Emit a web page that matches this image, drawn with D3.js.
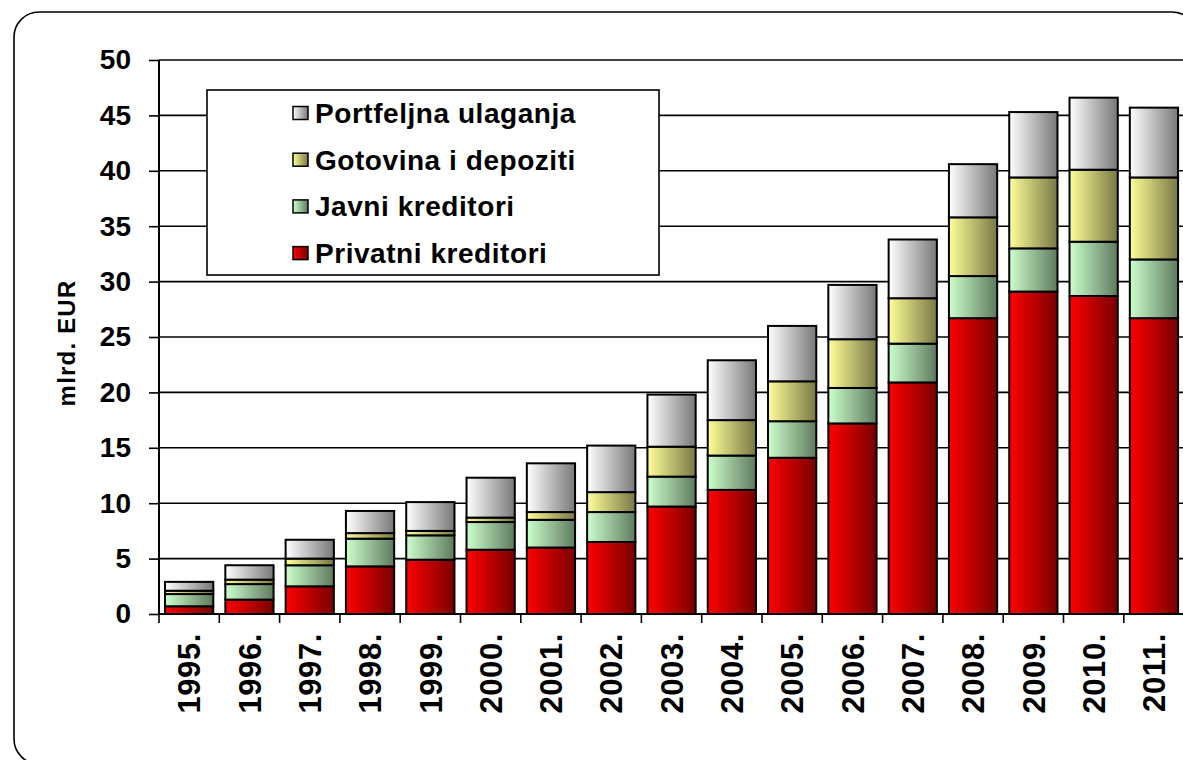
<!DOCTYPE html>
<html>
<head>
<meta charset="utf-8">
<script src="https://cdn.jsdelivr.net/npm/d3@7"></script>
<style>
  html, body { margin: 0; padding: 0; background: #fff; }
  svg { display: block; font-family: "Liberation Sans", Arial, sans-serif; }
</style>
</head>
<body>
<svg id="chart" width="1183" height="760"></svg>
<script>
const years = ["1995.","1996.","1997.","1998.","1999.","2000.","2001.","2002.","2003.","2004.","2005.","2006.","2007.","2008.","2009.","2010.","2011."];
const privatniKreditori = [0.7, 1.3, 2.5, 4.3, 4.9, 5.8, 6.0, 6.5, 9.7, 11.2, 14.1, 17.2, 20.9, 26.7, 29.1, 28.7, 26.7];
const javniKreditori    = [1.1, 1.4, 1.9, 2.5, 2.2, 2.5, 2.5, 2.7, 2.7, 3.1, 3.3, 3.2, 3.5, 3.8, 3.9, 4.9, 5.3];
const gotovinaDepoziti  = [0.3, 0.4, 0.6, 0.5, 0.4, 0.4, 0.7, 1.8, 2.7, 3.2, 3.6, 4.4, 4.1, 5.3, 6.4, 6.5, 7.4];
const portfeljna        = [0.8, 1.3, 1.7, 2.0, 2.6, 3.6, 4.4, 4.2, 4.7, 5.4, 5.0, 4.9, 5.3, 4.8, 5.9, 6.5, 6.3];
const seriesNames = ["Privatni kreditori", "Javni kreditori", "Gotovina i depoziti", "Portfeljna ulaganja"];
const yTicks = [0, 5, 10, 15, 20, 25, 30, 35, 40, 45, 50];
const yTitle = "mlrd. EUR";

(function () {
const svg = d3.select("#chart");
const defs = svg.append("defs");
const grads = [
  ["g0", "#ff0000", "#780000"],
  ["g1", "#ccffcc", "#5f7a5f"],
  ["g2", "#ffff99", "#787845"],
  ["g3", "#ffffff", "#787878"]
];
grads.forEach(([id, c0, c1]) => {
  const g = defs.append("linearGradient").attr("id", id).attr("x1", "0").attr("x2", "1").attr("y1", "0").attr("y2", "0");
  g.append("stop").attr("offset", "0%").attr("stop-color", c0);
  g.append("stop").attr("offset", "100%").attr("stop-color", c1);
});

// outer rounded frame
svg.append("rect").attr("x", 14).attr("y", 12).attr("width", 1183).attr("height", 752)
  .attr("rx", 25).attr("ry", 25).attr("fill", "none").attr("stroke", "#000").attr("stroke-width", 1.6);

const pLeft = 159, pRight = 1184.1, pTop = 60, pBottom = 614;
const x = d3.scaleBand().domain(years).range([pLeft, pRight]).paddingInner(0.2).paddingOuter(0.1);
const y = d3.scaleLinear().domain([0, 50]).range([pBottom, pTop]);

// gridlines
svg.append("g").selectAll("line").data(yTicks.filter(d => d > 0)).join("line")
  .attr("x1", pLeft).attr("x2", 1200).attr("y1", d => y(d)).attr("y2", d => y(d))
  .attr("stroke", "#000").attr("stroke-width", 1.6);

// stacked bars
const rows = years.map((yr, i) => ({ year: yr, s0: privatniKreditori[i], s1: javniKreditori[i], s2: gotovinaDepoziti[i], s3: portfeljna[i] }));
const stack = d3.stack().keys(["s0", "s1", "s2", "s3"])(rows);
const gBars = svg.append("g");
stack.forEach((layer, li) => {
  gBars.append("g").selectAll("rect").data(layer).join("rect")
    .attr("x", d => x(d.data.year))
    .attr("width", x.bandwidth())
    .attr("y", d => y(d[1]))
    .attr("height", d => y(d[0]) - y(d[1]))
    .attr("fill", `url(#g${li})`)
    .attr("stroke", "#000").attr("stroke-width", 2);
});

// y axis
const yAxis = d3.axisLeft(y).tickValues(yTicks).tickSize(10).tickPadding(18).tickFormat(d3.format("d"));
const ya = svg.append("g").attr("transform", `translate(${pLeft},0)`).call(yAxis);
ya.select(".domain").attr("stroke-width", 2).attr("d", `M-0,${pTop}V${pBottom}`);
ya.selectAll(".tick line").attr("stroke-width", 1.6);
ya.selectAll(".tick text").attr("font-size", 28).attr("font-weight", "bold").attr("fill", "#000")
  .attr("font-family", "'Liberation Sans', Arial, sans-serif");

// x axis line and ticks at category boundaries
const step = x.step();
const boundaries = years.map(yr => x(yr) - step * x.paddingInner() / 2);
svg.append("line").attr("x1", pLeft).attr("x2", 1200).attr("y1", pBottom).attr("y2", pBottom)
  .attr("stroke", "#000").attr("stroke-width", 2);
svg.append("g").selectAll("line").data(boundaries).join("line")
  .attr("x1", d => d).attr("x2", d => d).attr("y1", pBottom).attr("y2", pBottom + 9)
  .attr("stroke", "#000").attr("stroke-width", 1.6);

// x labels
svg.append("g").selectAll("text").data(years).join("text")
  .attr("transform", d => `translate(${x(d) + x.bandwidth() / 2},633) rotate(-90)`)
  .attr("text-anchor", "end").attr("dy", "0.36em")
  .attr("font-size", 31).attr("font-weight", "bold").attr("letter-spacing", 0.6).text(d => d);

// y title
svg.append("text").attr("transform", `translate(66,343) rotate(-90)`)
  .attr("text-anchor", "middle").attr("dy", "0.36em")
  .attr("font-size", 24).attr("font-weight", "bold").attr("letter-spacing", 1.2).text(yTitle);

// legend
const lg = svg.append("g");
lg.append("rect").attr("x", 207).attr("y", 90).attr("width", 452).attr("height", 185)
  .attr("fill", "#fff").attr("stroke", "#000").attr("stroke-width", 1.6);
const legendItems = [3, 2, 1, 0];
legendItems.forEach((si, k) => {
  const cy = 113 + k * 46.7;
  lg.append("rect").attr("x", 293).attr("y", cy - 6.5).attr("width", 15).attr("height", 13)
    .attr("fill", `url(#g${si})`).attr("stroke", "#000").attr("stroke-width", 1.5);
  lg.append("text").attr("x", 315).attr("y", cy).attr("dy", "0.36em")
    .attr("font-size", 28).attr("font-weight", "bold").attr("letter-spacing", 0.55).text(seriesNames[si]);
});
})();
</script>
</body>
</html>
